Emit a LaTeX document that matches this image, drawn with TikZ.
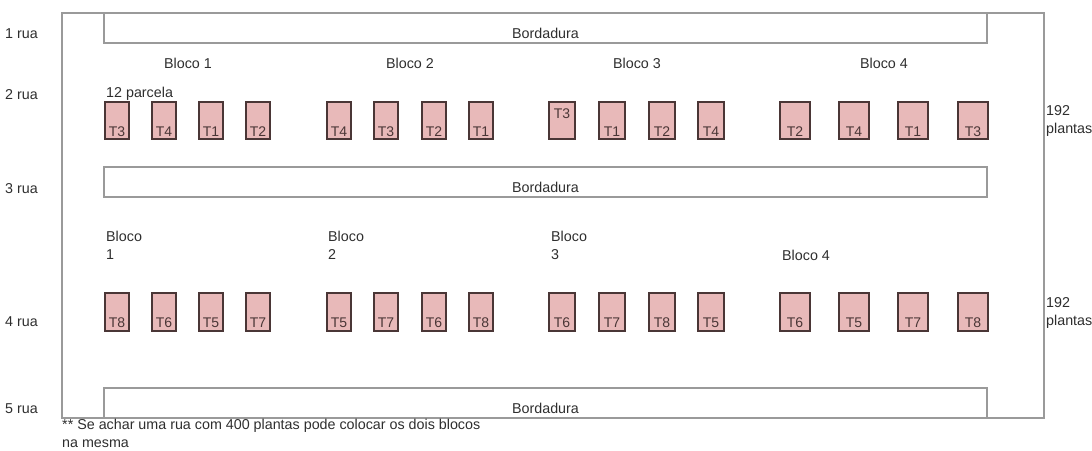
\documentclass[tikz,border=0pt]{standalone}
\usepackage{fontspec}
\setmainfont{Liberation Sans}
\definecolor{framegray}{HTML}{9A9A9A}
\definecolor{plotfill}{HTML}{E8B9B9}
\definecolor{plotedge}{HTML}{4A3636}
\definecolor{inktext}{HTML}{2E2E2E}
\usetikzlibrary{positioning}
\tikzset{
  txt/.style={font=\fontsize{14.3}{17.5}\selectfont, text=inktext, inner sep=0pt},
  bord/.style={
    draw=framegray, line width=1.4pt, minimum width=883pt, minimum height=30pt,
    inner ysep=1.5pt, text height=24pt, text depth=3pt,
    font=\fontsize{14.3}{17}\selectfont, text=inktext
  },
  plot/.style={
    draw=plotedge, fill=plotfill, line width=1.2pt,
    minimum width=#1, minimum height=37pt, inner sep=1pt,
    text height=33pt, text depth=1.5pt,
    font=\fontsize{14}{16}\selectfont, text=plotedge
  },
  plot/.default=24pt,
  tplot/.style={plot=#1, text height=15pt, text depth=19.5pt},
  tplot/.default=26pt,
}

\begin{document}
\begin{tikzpicture}[x=1pt, y=-1pt]
    \useasboundingbox (0,0) rectangle (1092,450);

    % field outline and borders
    \draw[framegray, line width=1.4pt] (62,13) rectangle (1044,418);
    \node[bord] (bord1) at (545.5,28) {Bordadura};
    \node[bord] (bord2) at (545.5,182) {Bordadura};
    \node[bord] (bord3) at (545.5,403) {Bordadura};

    % rows
    \node[txt, anchor=west] (rua1) at (5,34) {1 rua};
    \node[txt, anchor=west] (rua2) at (5,95) {2 rua};
    \node[txt, anchor=west] (rua3) at (5,189) {3 rua};
    \node[txt, anchor=west] (rua4) at (5,322) {4 rua};
    \node[txt, anchor=west] (rua5) at (5,409) {5 rua};

    % first line of blocks
    \node[txt] (blA1) at (188,63) {Bloco 1};
    \node[txt] (blA2) at (410,63) {Bloco 2};
    \node[txt] (blA3) at (637,63) {Bloco 3};
    \node[txt] (blA4) at (884,63) {Bloco 4};
    \node[txt, anchor=west] (parc) at (106,94) {12 parcela};

    \node[plot] (a11) at (117,120.5) {T3};
    \node[plot] (a12) at (164,120.5) {T4};
    \node[plot] (a13) at (211,120.5) {T1};
    \node[plot] (a14) at (258,120.5) {T2};
    \node[plot] (a21) at (339,120.5) {T4};
    \node[plot] (a22) at (386,120.5) {T3};
    \node[plot] (a23) at (434,120.5) {T2};
    \node[plot] (a24) at (481,120.5) {T1};
    \node[tplot] (a31) at (562,120.5) {T3};
    \node[plot=26pt] (a32) at (612,120.5) {T1};
    \node[plot=26pt] (a33) at (662,120.5) {T2};
    \node[plot=26pt] (a34) at (711,120.5) {T4};
    \node[plot=30pt] (a41) at (795,120.5) {T2};
    \node[plot=30pt] (a42) at (854,120.5) {T4};
    \node[plot=30pt] (a43) at (913,120.5) {T1};
    \node[plot=30pt] (a44) at (973,120.5) {T3};

    \node[txt, anchor=west, align=left] (plA) at (1046,121) {192\\plantas};

    % second line of blocks
    \node[txt, anchor=north west, align=left] (blB1) at (106,231) {Bloco\\1};
    \node[txt, anchor=north west, align=left] (blB2) at (328,231) {Bloco\\2};
    \node[txt, anchor=north west, align=left] (blB3) at (551,231) {Bloco\\3};
    \node[txt, anchor=west] (blB4) at (782,255) {Bloco 4};

    \node[plot, minimum height=38pt] (b11) at (117,312) {T8};
    \node[plot, minimum height=38pt] (b12) at (164,312) {T6};
    \node[plot, minimum height=38pt] (b13) at (211,312) {T5};
    \node[plot, minimum height=38pt] (b14) at (258,312) {T7};
    \node[plot, minimum height=38pt] (b21) at (339,312) {T5};
    \node[plot, minimum height=38pt] (b22) at (386,312) {T7};
    \node[plot, minimum height=38pt] (b23) at (434,312) {T6};
    \node[plot, minimum height=38pt] (b24) at (481,312) {T8};
    \node[plot=26pt, minimum height=38pt] (b31) at (562,312) {T6};
    \node[plot=26pt, minimum height=38pt] (b32) at (612,312) {T7};
    \node[plot=26pt, minimum height=38pt] (b33) at (662,312) {T8};
    \node[plot=26pt, minimum height=38pt] (b34) at (711,312) {T5};
    \node[plot=30pt, minimum height=38pt] (b41) at (795,312) {T6};
    \node[plot=30pt, minimum height=38pt] (b42) at (854,312) {T5};
    \node[plot=30pt, minimum height=38pt] (b43) at (913,312) {T7};
    \node[plot=30pt, minimum height=38pt] (b44) at (973,312) {T8};

    \node[txt, anchor=west, align=left] (plB) at (1046,313) {192\\plantas};

    % note
    \node[txt, anchor=north west, align=left] (nota) at (62,419)
      {** Se achar uma rua com 400 plantas pode colocar os dois blocos\\na mesma};
\end{tikzpicture}
\end{document}
